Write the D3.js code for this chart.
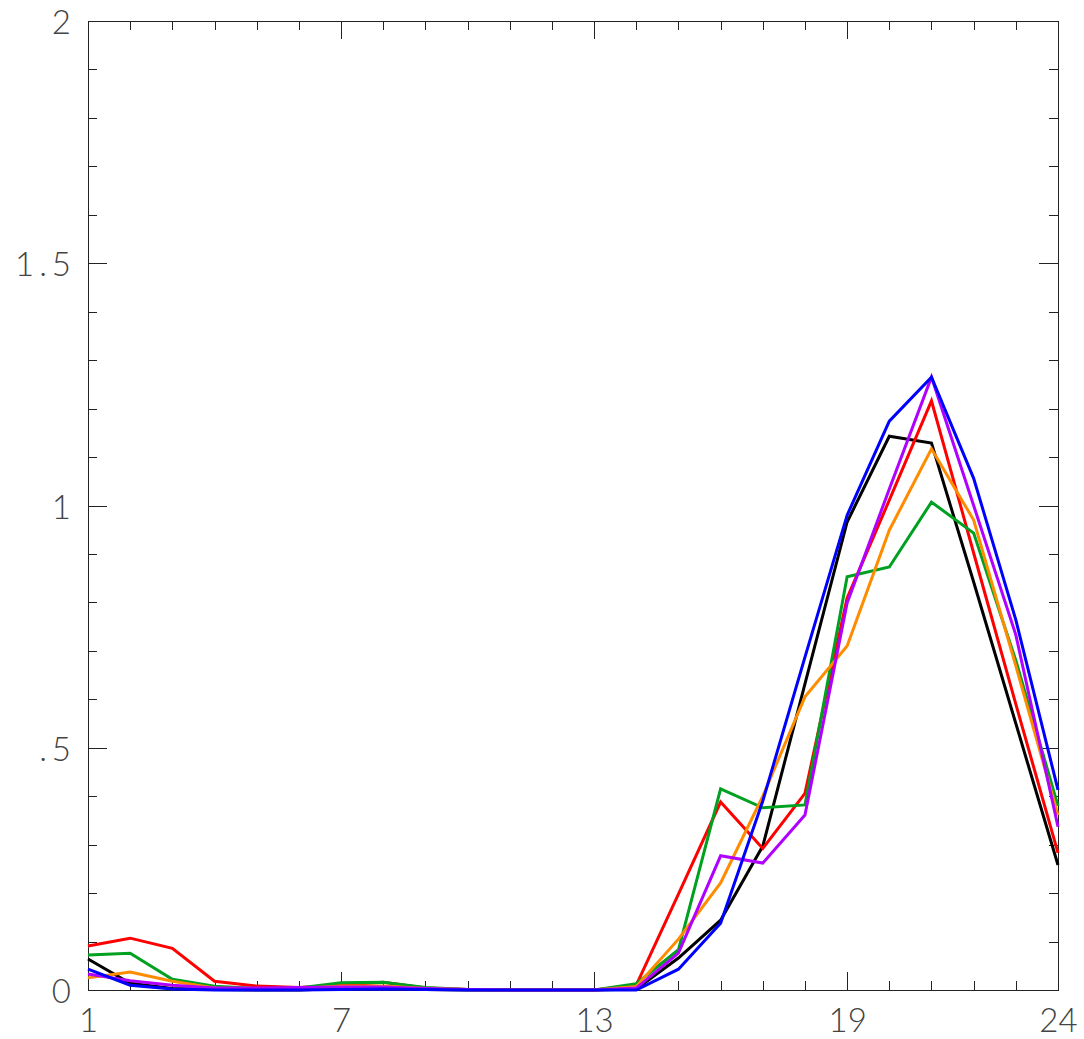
<!DOCTYPE html>
<html>
<head>
<meta charset="utf-8">
<script src="https://cdn.jsdelivr.net/npm/d3@7"></script>
<style>
  body { margin: 0; background: #fff; }
  .lbl text { font-family: "Lato", "DejaVu Sans", sans-serif; font-weight: 300; font-size: 33px; fill: #444; }
  .frame path, .frame line { stroke: #222; shape-rendering: crispEdges; }
</style>
</head>
<body>
<svg id="chart"></svg>
<script>
const WIDTH = 1084, HEIGHT = 1039;
const margin = { top: 21, right: 26, bottom: 49, left: 88 };

// hours 1..24
const hours = d3.range(1, 25);

const black = [0.064, 0.014, 0.003, 0.001, 0, 0, 0.003, 0.003, 0.001, 0, 0, 0, 0, 0.002, 0.066, 0.144, 0.297, 0.632, 0.966, 1.143, 1.129, 0.842, 0.55, 0.258];
const red = [0.091, 0.107, 0.086, 0.018, 0.008, 0.005, 0.01, 0.016, 0.004, 0.001, 0, 0, 0, 0.01, 0.198, 0.388, 0.292, 0.406, 0.809, 1.011, 1.216, 0.902, 0.59, 0.283];
const green = [0.072, 0.076, 0.022, 0.008, 0.003, 0.004, 0.015, 0.016, 0.005, 0.001, 0, 0, 0, 0.013, 0.083, 0.415, 0.376, 0.382, 0.853, 0.873, 1.007, 0.943, 0.68, 0.38];
const orange = [0.025, 0.037, 0.018, 0.004, 0.002, 0.003, 0.008, 0.008, 0.003, 0.001, 0, 0, 0, 0.007, 0.105, 0.221, 0.40, 0.605, 0.71, 0.949, 1.117, 0.97, 0.669, 0.361];
const purple = [0.033, 0.019, 0.01, 0.004, 0.004, 0.005, 0.006, 0.006, 0.003, 0.001, 0, 0, 0, 0.004, 0.076, 0.277, 0.262, 0.361, 0.799, 1.034, 1.265, 1.0, 0.733, 0.337];
const blue = [0.043, 0.01, 0.002, 0, 0, 0, 0.001, 0.002, 0.001, 0, 0, 0, 0, 0, 0.043, 0.138, 0.39, 0.687, 0.98, 1.174, 1.265, 1.056, 0.764, 0.413];

const xMajor = [1, 7, 13, 19, 24];
const yMajor = [0, 0.5, 1, 1.5, 2];
const yLabels = ["0", ".5", "1", "1.5", "2"];

const series = [
  { name: "black", values: black, color: "#000000" },
  { name: "red", values: red, color: "#ff0000" },
  { name: "green", values: green, color: "#00a020" },
  { name: "orange", values: orange, color: "#ff8c00" },
  { name: "purple", values: purple, color: "#b000ff" },
  { name: "blue", values: blue, color: "#0000ff" },
];

const width = WIDTH - margin.left - margin.right,
  height = HEIGHT - margin.top - margin.bottom;

const x = d3.scaleLinear().domain([1, 24]).range([0, width]);
const y = d3.scaleLinear().domain([0, 2]).range([height, 0]);

const svg = d3.select("#chart").attr("width", WIDTH).attr("height", HEIGHT);
const g = svg.append("g").attr("transform", "translate(" + margin.left + "," + margin.top + ")");

const yMinor = d3.range(0, 21).map((d) => d / 10);

// minor ticks, all four sides, pointing inward
g.append("g").attr("class", "frame").attr("transform", "translate(0," + height + ")")
  .call(d3.axisBottom(x).tickValues(hours).tickSize(-9).tickFormat(""));
g.append("g").attr("class", "frame")
  .call(d3.axisTop(x).tickValues(hours).tickSize(-9).tickFormat(""));
g.append("g").attr("class", "frame")
  .call(d3.axisLeft(y).tickValues(yMinor).tickSize(-9).tickFormat(""));
g.append("g").attr("class", "frame").attr("transform", "translate(" + width + ",0)")
  .call(d3.axisRight(y).tickValues(yMinor).tickSize(-9).tickFormat(""));

// major ticks
g.append("g").attr("class", "frame").attr("transform", "translate(0," + height + ")")
  .call(d3.axisBottom(x).tickValues(xMajor.slice(0, 4)).tickSize(-18).tickFormat(""));
g.append("g").attr("class", "frame")
  .call(d3.axisTop(x).tickValues(xMajor.slice(0, 4)).tickSize(-18).tickFormat(""));
g.append("g").attr("class", "frame")
  .call(d3.axisLeft(y).tickValues(yMajor).tickSize(-19).tickFormat(""));
g.append("g").attr("class", "frame").attr("transform", "translate(" + width + ",0)")
  .call(d3.axisRight(y).tickValues(yMajor).tickSize(-19).tickFormat(""));

// labels
const xl = g.append("g").attr("class", "lbl").attr("transform", "translate(0," + height + ")")
  .call(d3.axisBottom(x).tickValues(xMajor).tickSize(0).tickFormat(d3.format("d")));
xl.select(".domain").remove();
xl.selectAll("text").attr("y", 42).attr("dy", 0).attr("fill", null);

const yl = g.append("g").attr("class", "lbl")
  .call(d3.axisLeft(y).tickValues(yMajor).tickSize(0).tickFormat((d, i) => yLabels[i]));
yl.select(".domain").remove();
yl.selectAll("text").attr("x", -12).attr("dy", "0.38em").attr("fill", null)
  .style("letter-spacing", "5px");

const line = d3.line()
  .x((d, i) => x(hours[i]))
  .y((d) => y(d));

g.selectAll(".series")
  .data(series)
  .enter()
  .append("path")
  .attr("class", "series")
  .attr("d", (d) => line(d.values))
  .attr("fill", "none")
  .attr("stroke", (d) => d.color)
  .attr("stroke-width", 3)
  .attr("stroke-linejoin", "miter");
</script>
</body>
</html>
